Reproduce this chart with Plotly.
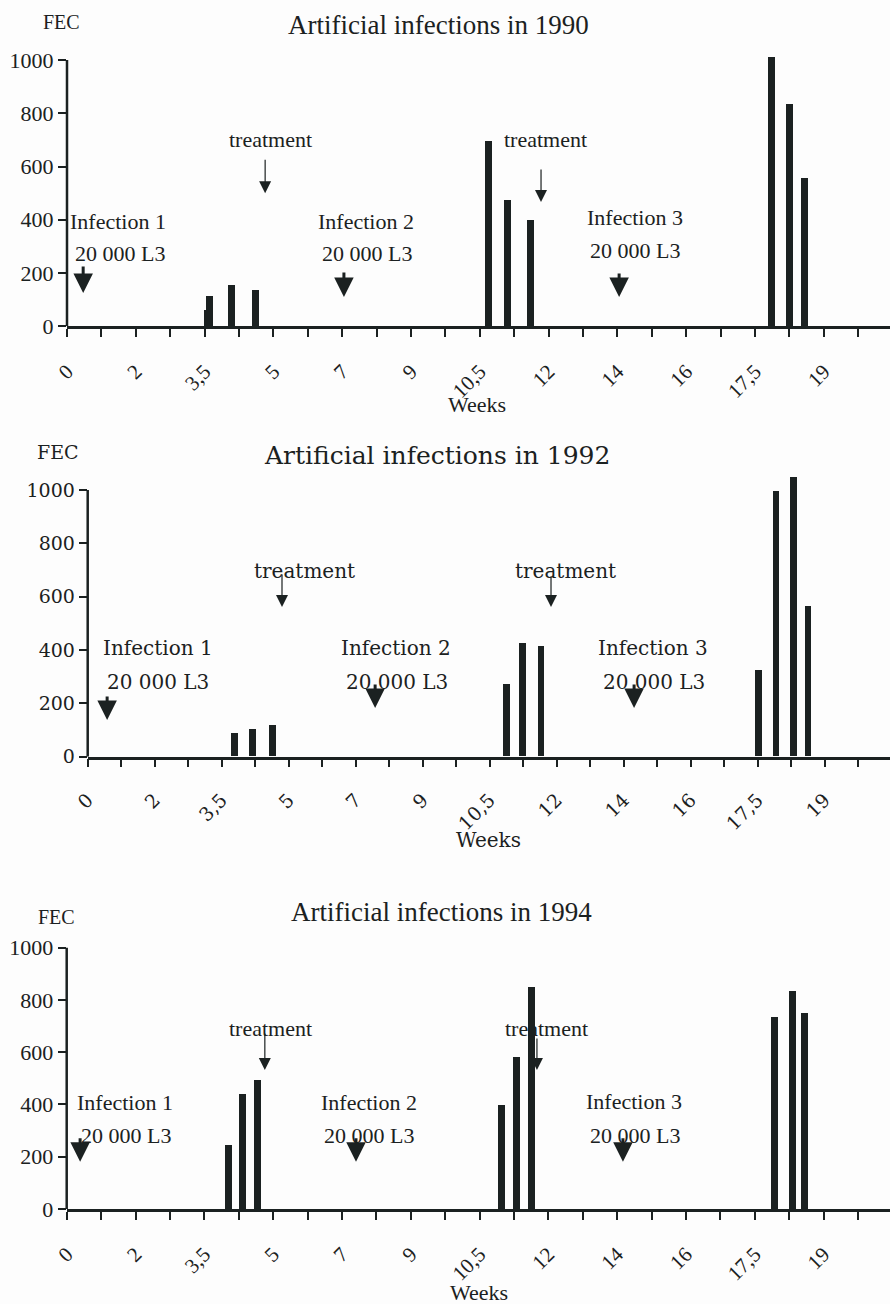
import plotly.graph_objects as go

# ── Data ──────────────────────────────────────────────
# x positions are in axis-tick units: one tick per sampling step,
# only every second tick carries a week label (as in the original sheet)
TICK_LABELS = ["0", "", "2", "", "3,5", "", "5", "", "7", "", "9", "",
               "10,5", "", "12", "", "14", "", "16", "", "17,5", "", "19", ""]

POS_1990 = [4.07, 4.14, 4.78, 5.48, 12.24, 12.80, 13.47, 20.47, 20.99, 21.45]
FEC_1990 = [60, 111, 155, 134, 693, 474, 397, 1010, 835, 556]

POS_1992 = [4.37, 4.90, 5.50, 12.49, 12.96, 13.52, 20.02, 20.54, 21.05, 21.49]
FEC_1992 = [88, 103, 119, 271, 425, 412, 325, 994, 1048, 562]

POS_1994 = [4.70, 5.09, 5.53, 12.63, 13.06, 13.50, 20.57, 21.08, 21.45]
FEC_1994 = [245, 440, 496, 401, 585, 851, 736, 835, 753]

Y_TICKS = [0, 200, 400, 600, 800, 1000]

W, H = 890, 1304
INK = "#1b2121"
Y_MAX = 1100

# ── Panel geometry (pixels) and annotations ──────────
PANELS = [
    dict(year="1990", pos=POS_1990, fec=FEC_1990, font="Liberation Serif",
         x0=67, step=34.4, base=326.3, top=60.0,
         title_size=27, text_size=22, fec_size=20, ytick_size=22, xtick_size=21,
         fec_xy=(61, 22), title_xy=(438, 25), weeks_xy=(477, 405),
         texts=[("Infection 1", 1.47, 395), ("20 000 L3", 1.54, 275),
                ("Infection 2", 8.68, 395), ("20 000 L3", 8.72, 275),
                ("Infection 3", 16.50, 407), ("20 000 L3", 16.51, 283),
                ("treatment", 5.92, 703), ("treatment", 13.92, 703)],
         infections=[(0.47, 125, -28), (8.05, 110, -26), (16.05, 110, -25)],
         treatments=[(5.76, 500, -35), (13.78, 467, -34)]),
    dict(year="1992", pos=POS_1992, fec=FEC_1992, font="DejaVu Serif",
         x0=87.7, step=33.5, base=756.7, top=490.0,
         title_size=25, text_size=20, fec_size=19, ytick_size=19, xtick_size=19,
         fec_xy=(58, 452), title_xy=(437, 455), weeks_xy=(489, 840),
         texts=[("Infection 1", 2.11, 408), ("20 000 L3", 2.11, 280),
                ("Infection 2", 9.20, 408), ("20 000 L3", 9.22, 280),
                ("Infection 3", 16.86, 408), ("20 000 L3", 16.89, 280),
                ("treatment", 6.47, 696), ("treatment", 14.26, 696)],
         infections=[(0.58, 138, -25), (8.58, 183, -25), (16.31, 183, -25)],
         treatments=[(5.80, 561, -34), (13.83, 561, -32)]),
    dict(year="1994", pos=POS_1994, fec=FEC_1994, font="Liberation Serif",
         x0=66.7, step=34.4, base=1209.0, top=947.7,
         title_size=27, text_size=22, fec_size=20, ytick_size=22, xtick_size=21,
         fec_xy=(57, 917), title_xy=(441, 912), weeks_xy=(479, 1292),
         texts=[("Infection 1", 1.70, 409), ("20 000 L3", 1.71, 283),
                ("Infection 2", 8.80, 409), ("20 000 L3", 8.80, 283),
                ("Infection 3", 16.50, 413), ("20 000 L3", 16.52, 283),
                ("treatment", 5.92, 689), ("treatment", 13.96, 689)],
         infections=[(0.39, 181, -25), (8.41, 181, -25), (16.17, 181, -25)],
         treatments=[(5.76, 532, -38), (13.67, 532, -33)]),
]


def paper(px, py):
    return px / W, 1 - py / H


fig = go.Figure()
annotations = []
shapes = []
axes = {}

for i, p in enumerate(PANELS, start=1):
    sfx = "" if i == 1 else str(i)
    xa, ya = "x" + sfx, "y" + sfx
    font = dict(family=p["font"], color=INK)

    fig.add_trace(go.Bar(
        x=p["pos"], y=p["fec"], width=0.2,
        marker_color=INK, marker_line_width=0,
        xaxis=xa, yaxis=ya, showlegend=False,
    ))

    # axes
    px_per_unit = (p["base"] - p["top"]) / 1000
    top_px = p["base"] - Y_MAX * px_per_unit
    axes["xaxis" + sfx] = dict(
        domain=[p["x0"] / W, 1], range=[0, (W - p["x0"]) / p["step"]],
        anchor=ya, automargin=False,
        tickmode="array", tickvals=list(range(len(TICK_LABELS))),
        ticktext=TICK_LABELS, tickangle=-45, ticks="outside", ticklen=8,
        tickwidth=2, tickcolor=INK, ticklabelstandoff=14,
        showline=True, linewidth=2.5, linecolor=INK,
        showgrid=False, zeroline=False,
        tickfont=dict(size=p["xtick_size"], **font),
    )
    axes["yaxis" + sfx] = dict(
        domain=[1 - p["base"] / H, 1 - top_px / H], range=[0, Y_MAX],
        anchor=xa, automargin=False,
        tickmode="array", tickvals=Y_TICKS,
        ticks="outside", ticklen=8, tickwidth=2, tickcolor=INK,
        showline=False, showgrid=False, zeroline=False,
        tickfont=dict(size=p["ytick_size"], **font),
    )
    # y axis line only up to 1000
    shapes.append(dict(type="line", xref=xa + " domain", yref=ya,
                       x0=0, x1=0, y0=0, y1=1000,
                       line=dict(color=INK, width=2.5)))

    # title, FEC, Weeks
    for txt, (px, py), size in [
        (f"Artificial infections in {p['year']}", p["title_xy"], p["title_size"]),
        ("FEC", p["fec_xy"], p["fec_size"]),
        ("Weeks", p["weeks_xy"], p["text_size"]),
    ]:
        x, y = paper(px, py)
        annotations.append(dict(text=txt, x=x, y=y, xref="paper", yref="paper",
                                xanchor="center", yanchor="middle",
                                showarrow=False, font=dict(size=size, **font)))

    # event labels
    for txt, x, y in p["texts"]:
        annotations.append(dict(text=txt, x=x, y=y, xref=xa, yref=ya,
                                showarrow=False, font=dict(size=p["text_size"], **font)))

    # infection arrows (thick)
    for x, y, ay in p["infections"]:
        annotations.append(dict(text="", x=x, y=y, xref=xa, yref=ya,
                                showarrow=True, ax=0, ay=ay, arrowhead=2,
                                arrowsize=1.3, arrowwidth=3, arrowcolor=INK))
    # treatment arrows (thin)
    for x, y, ay in p["treatments"]:
        annotations.append(dict(text="", x=x, y=y, xref=xa, yref=ya,
                                showarrow=True, ax=0, ay=ay, arrowhead=2,
                                arrowsize=2, arrowwidth=1.2, arrowcolor=INK))

fig.update_layout(
    width=W, height=H, autosize=False,
    margin=dict(l=0, r=0, t=0, b=0),
    paper_bgcolor="#fdfdfd", plot_bgcolor="#fdfdfd",
    barmode="overlay", bargap=0,
    annotations=annotations, shapes=shapes,
    **axes,
)

# page body has a default 8px margin; drop it so the figure fills the window
fig.write_html("out.html", config={"displayModeBar": False},
               post_script="document.body.style.margin='0';"
                           "document.body.style.overflow='hidden';")
